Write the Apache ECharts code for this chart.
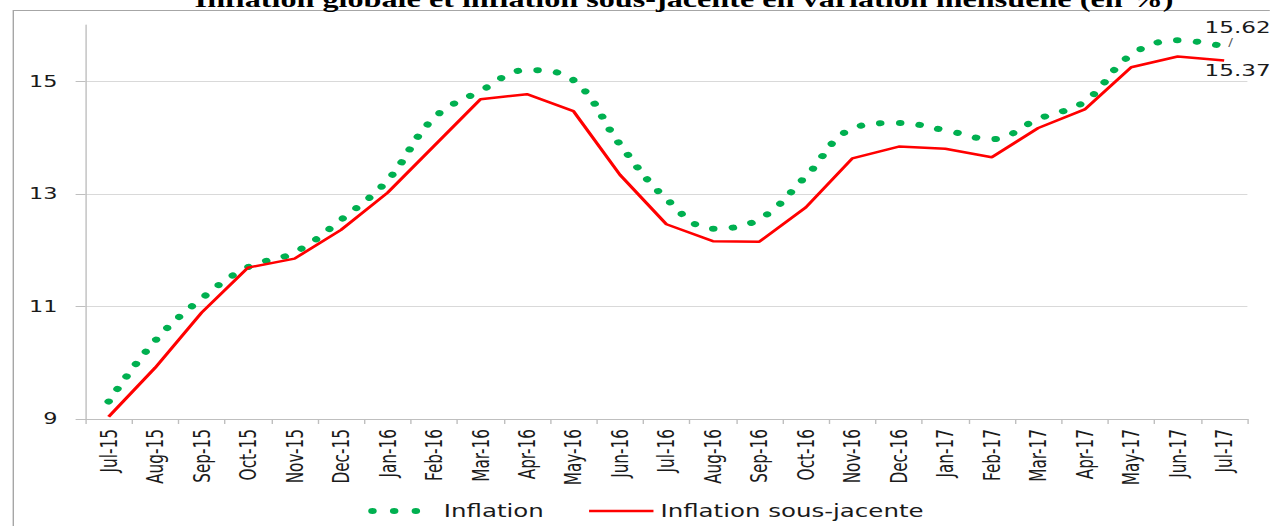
<!DOCTYPE html>
<html>
<head>
<meta charset="utf-8">
<script src="https://cdn.jsdelivr.net/npm/echarts@6/dist/echarts.min.js"></script>
<style>
  html, body { margin: 0; padding: 0; background: #ffffff; overflow: hidden; }
  #wrap { width: 1270px; height: 526px; overflow: hidden; position: relative; }
  #chart { width: 907px; height: 526px; transform: scaleX(1.4); transform-origin: 0 0; }
</style>
</head>
<body>
<div id="wrap"><div id="chart"></div></div>
<script>
const titleText = 'Inflation globale et inflation sous-jacente en variation mensuelle (en %)';
const categories = ['Jul-15','Aug-15','Sep-15','Oct-15','Nov-15','Dec-15','Jan-16','Feb-16','Mar-16','Apr-16','May-16','Jun-16','Jul-16','Aug-16','Sep-16','Oct-16','Nov-16','Dec-16','Jan-17','Feb-17','Mar-17','Apr-17','May-17','Jun-17','Jul-17'];
const inflation = [9.31, 10.39, 11.14, 11.70, 11.96, 12.54, 13.24, 14.35, 14.83, 15.20, 15.02, 13.88, 12.91, 12.38, 12.55, 13.31, 14.16, 14.26, 14.13, 13.97, 14.33, 14.64, 15.47, 15.73, 15.62];
const inflationSousJacente = [9.04, 9.91, 10.89, 11.69, 11.85, 12.36, 13.02, 13.85, 14.68, 14.77, 14.47, 13.34, 12.46, 12.16, 12.15, 12.76, 13.63, 13.84, 13.80, 13.65, 14.17, 14.50, 15.25, 15.44, 15.37];
const seriesNames = ['Inflation', 'Inflation sous-jacente'];
const yMin = 9, yMax = 16, yStep = 2;

const chart = echarts.init(document.getElementById('chart'), null, { renderer: 'svg' });

const greenStyle = { color: '#00B050', width: 6, type: [0.1, 14], cap: 'round' };
const redStyle = { color: '#FF0000', width: 2.5 };

chart.setOption({
  animation: false,
  backgroundColor: '#ffffff',
  title: {
    text: titleText,
    left: 134, top: -17,
    textStyle: { fontFamily: 'Liberation Serif', fontWeight: 'bold', fontSize: 23, color: '#000' }
  },
  graphic: [{
    type: 'rect', left: 7, top: 8, silent: true,
    shape: { width: 1000, height: 700 },
    style: { fill: 'none', stroke: '#A6A6A6', lineWidth: 1 }
  }],
  grid: { left: 61, right: 16, top: 25, bottom: 107, containLabel: false },
  legend: {
    left: 258, top: 497,
    itemWidth: 46, itemHeight: 14, itemGap: 31,
    itemStyle: { opacity: 0 },
    textStyle: { fontFamily: 'DejaVu Sans', fontSize: 17.5, color: '#1a1a1a', padding: [0, 0, 0, 0] },
    data: [
      { name: seriesNames[0], lineStyle: { color: '#00B050', width: 6, type: [0.1, 15.4], cap: 'round' } },
      { name: seriesNames[1], lineStyle: { color: '#FF0000', width: 2.5 } }
    ]
  },
  xAxis: {
    type: 'category',
    data: categories,
    boundaryGap: true,
    axisLine: { show: true, lineStyle: { color: '#BFBFBF', width: 1 } },
    axisTick: { show: true, alignWithLabel: false, length: 5, lineStyle: { color: '#BFBFBF' } },
    axisLabel: { rotate: 90, margin: 10, interval: 0, fontFamily: "'Liberation Sans Narrow', 'DejaVu Sans Condensed', 'Liberation Sans', sans-serif", fontSize: 17, color: '#1a1a1a' },
    splitLine: { show: false }
  },
  yAxis: {
    type: 'value',
    min: yMin, max: yMax, interval: yStep,
    axisLine: { show: true, lineStyle: { color: '#BFBFBF', width: 1 } },
    axisTick: { show: true, length: 7, lineStyle: { color: '#BFBFBF' } },
    axisLabel: {
      margin: 20, fontFamily: 'DejaVu Sans', fontSize: 16, color: '#1a1a1a',
      showMaxLabel: false,
      formatter: v => (v === yMax ? '' : String(v))
    },
    splitLine: { show: true, showMinLine: false, showMaxLine: false, lineStyle: { color: '#D9D9D9', width: 1 } }
  },
  series: [
    {
      name: seriesNames[0],
      type: 'line',
      data: inflation,
      smooth: 0.4,
      showSymbol: false,
      symbol: 'none',
      color: '#00B050',
      lineStyle: greenStyle,
      endLabel: {
        show: true,
        offset: [-22, -14],
        formatter: p => '{v|' + p.value.toFixed(2) + '}\n{s|/}',
        rich: {
          v: { fontFamily: 'DejaVu Sans', fontSize: 16.5, color: '#1a1a1a', lineHeight: 20 },
          s: { fontFamily: 'DejaVu Sans', fontSize: 10, color: '#555', lineHeight: 10, padding: [0, 0, 0, 17] }
        }
      },
      z: 3
    },
    {
      name: seriesNames[1],
      type: 'line',
      data: inflationSousJacente,
      smooth: false,
      showSymbol: false,
      symbol: 'none',
      color: '#FF0000',
      lineStyle: redStyle,
      endLabel: {
        show: true,
        offset: [-22, 10],
        formatter: p => p.value.toFixed(2),
        fontFamily: 'DejaVu Sans', fontSize: 16.5, color: '#1a1a1a'
      },
      z: 4
    }
  ]
});
</script>
</body>
</html>
